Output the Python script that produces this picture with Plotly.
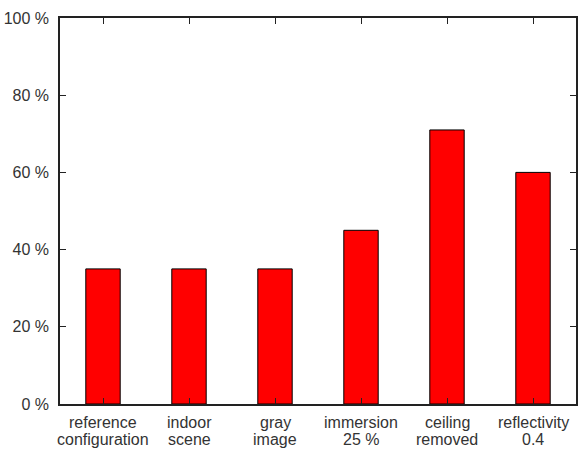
import plotly.graph_objects as go

categories = ["reference<br>configuration", "indoor<br>scene", "gray<br>image",
              "immersion<br>25 %", "ceiling<br>removed", "reflectivity<br>0.4"]
values = [35, 35, 35, 45, 71, 60]
y_ticks = [0, 20, 40, 60, 80, 100]
y_tick_labels = ["0 %", "20 %", "40 %", "60 %", "80 %", "100 %"]

x_pos = list(range(len(categories)))
FONT = "Liberation Sans, Arial, sans-serif"
TXT = "#333333"

fig = go.Figure(go.Bar(
    x=x_pos, y=values, width=0.4,
    marker=dict(color="#ff0000", line=dict(color="#000000", width=1)),
))

axis_common = dict(showline=True, linecolor="#222222", linewidth=1.5, mirror="ticks",
                   ticks="inside", ticklen=6, tickwidth=1.2, tickcolor="#222222",
                   showgrid=False, zeroline=False)

# category labels: two lines each, as annotations for tight line spacing
annotations = []
for i, lab in enumerate(categories):
    for j, line in enumerate(lab.split("<br>")):
        annotations.append(dict(
            x=x_pos[i], xref="x", y=0, yref="paper", yanchor="top", xanchor="center",
            yshift=-9 - 17 * j, text=line, showarrow=False, borderpad=0,
            font=dict(family=FONT, size=16, color=TXT),
        ))

fig.update_layout(
    width=582, height=449,
    margin=dict(l=59, r=4, t=18, b=45),
    paper_bgcolor="white", plot_bgcolor="white",
    showlegend=False,
    font=dict(family=FONT, size=16, color=TXT),
    xaxis=dict(range=[-0.5, 5.5], tickmode="array", tickvals=x_pos,
               showticklabels=False, **axis_common),
    yaxis=dict(range=[0, 100], tickmode="array", tickvals=y_ticks, ticktext=y_tick_labels,
               ticklabelstandoff=6, **axis_common),
    annotations=annotations,
)

fig.write_html("out.html")
